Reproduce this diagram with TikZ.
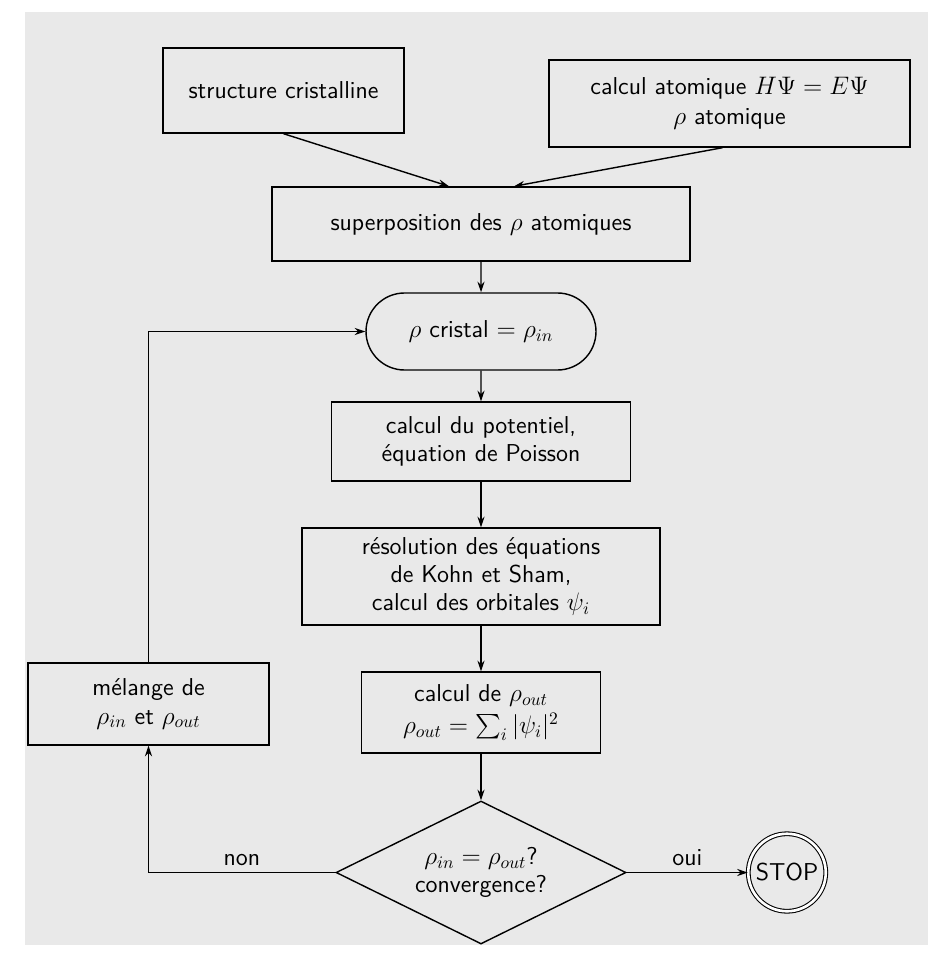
\documentclass[tikz,border=0pt]{standalone}
\usepackage{amsmath,amssymb}
\usepackage{tikz}
\usetikzlibrary{arrows.meta,shapes,positioning,calc}
\definecolor{papier}{RGB}{233,233,233}

\begin{document}
\begin{tikzpicture}[
    font=\sffamily\fontsize{13.9}{16}\selectfont,
    boite/.style={draw, line width=0.8pt, align=center, inner sep=2pt},
    fleche/.style={-{Stealth[length=6pt,width=4pt]}, line width=0.8pt},
    ]
    % fond (feuille scannee)
    \useasboundingbox (0,0) rectangle (18.56,-19.32);
    \fill[white] (0,0) rectangle (18.56,-19.32);
    \fill[papier] (0.5,-0.24) rectangle (18.56,-18.9);

    % donnees de depart
    \node[boite, minimum width=4.82cm, minimum height=1.7cm] (struct) at (5.67,-1.81) {structure cristalline};
    \node[boite, minimum width=7.22cm, minimum height=1.74cm, font=\sffamily\fontsize{13.9}{17}\selectfont] (atom) at (14.59,-2.07) {calcul atomique $H\Psi = E\Psi$\\ $\rho$ atomique};
    \node[boite, minimum width=8.36cm, minimum height=1.48cm] (superpos) at (9.62,-4.48) {superposition des $\rho$ atomiques};

    % densite d'entree
    \node[boite, rounded rectangle, minimum width=4.74cm, minimum height=1.54cm] (cristal) at (9.62,-6.63) {$\rho$ cristal $= \rho_{in}$};

    % cycle auto-coherent
    \node[boite, minimum width=5.98cm, minimum height=1.58cm] (potentiel) at (9.62,-8.83) {calcul du potentiel,\\ équation de Poisson};
    \node[boite, minimum width=7.16cm, minimum height=1.94cm] (kohnsham) at (9.62,-11.53) {résolution des équations\\ de Kohn et Sham,\\ calcul des orbitales $\psi_i$};
    \node[boite, minimum width=4.78cm, minimum height=1.62cm] (rhoout) at (9.62,-14.25) {calcul de $\rho_{out}$\\[2pt] $\rho_{out} = \sum_i |\psi_i|^2$};
    \node[boite, minimum width=4.82cm, minimum height=1.64cm] (melange) at (2.97,-14.08) {mélange de\\ $\rho_{in}$ et $\rho_{out}$};

    % test de convergence
    \node[boite, diamond, aspect=2, minimum width=5.8cm, minimum height=2.86cm, inner sep=0pt] (test) at (9.62,-17.45) {$\rho_{in} = \rho_{out}$?\\ convergence?};
    \node[draw, circle, double, double distance=1.5pt, line width=0.6pt, minimum size=1.55cm, inner sep=1pt] (stop) at (15.74,-17.45) {STOP};

    % fleches
    \draw[fleche] (struct.south) -- ([xshift=-0.64cm]superpos.north);
    \draw[fleche] ([xshift=-0.14cm]atom.south) -- ([xshift=0.66cm]superpos.north);
    \draw[fleche] (superpos) -- (cristal);
    \draw[fleche] (cristal) -- (potentiel);
    \draw[fleche] (potentiel) -- (kohnsham);
    \draw[fleche] (kohnsham) -- (rhoout);
    \draw[fleche] (rhoout) -- (test);
    \draw[fleche] (test.east) -- node[above] {oui} (stop.west);
    \draw[fleche] (test.west) -| node[pos=0.25, above] {non} (melange.south);
    \draw[fleche] (melange.north) |- (cristal.west);
\end{tikzpicture}
\end{document}
